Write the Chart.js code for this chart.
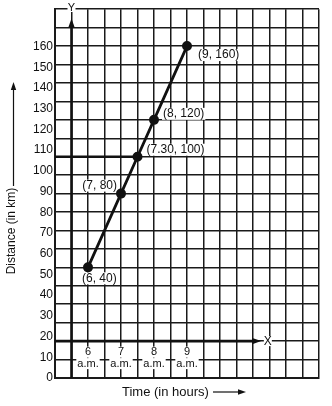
<!DOCTYPE html>
<html><head><meta charset="utf-8">
<script src="https://cdn.jsdelivr.net/npm/chart.js@4.4.1/dist/chart.umd.min.js"></script>
<style>html,body{margin:0;padding:0;background:#fff;}#wrap{width:332px;height:406px;}</style>
</head><body><div id="wrap"><canvas id="c" width="332" height="406"></canvas></div>
<script>
// ---- data ----
const hours = [6, 7, 7.5, 8, 9];
const distances = [40, 80, 100, 120, 160];
const pointLabels = ['(6, 40)', '(7, 80)', '(7.30, 100)', '(8, 120)', '(9, 160)'];
const yTickLabels = [0, 10, 20, 30, 40, 50, 60, 70, 80, 90, 100, 110, 120, 130, 140, 150, 160];
const xTickHours = [6, 7, 8, 9];
const xTickNames = ['6', '7', '8', '9'];
const xTickSuffix = 'a.m.';
const highlightDistance = 100;
const highlightHour = 7.5;
const yTitle = 'Distance (in km)';
const xTitle = 'Time (in hours)';

const INK = '#111';
const FONT = "'Liberation Sans', Arial, sans-serif";

function arrowHead(ctx, tx, ty, dir) {
  const L = 9, W = 3.2;
  ctx.beginPath();
  if (dir === 'right') { ctx.moveTo(tx, ty); ctx.lineTo(tx - L, ty - W); ctx.lineTo(tx - L, ty + W); }
  else { ctx.moveTo(tx, ty); ctx.lineTo(tx - W, ty + L); ctx.lineTo(tx + W, ty + L); }
  ctx.closePath(); ctx.fill();
}

const labelOffsets = [[-6, 11, 'left'], [-4, -8, 'right'], [9, -7, 'left'], [9, -6, 'left'], [11, 9, 'left']];

const deco = {
  id: 'deco',
  beforeDatasetsDraw(chart) {
    const { ctx, chartArea: a, scales: { x, y } } = chart;
    ctx.save();
    ctx.strokeStyle = INK; ctx.fillStyle = INK; ctx.lineWidth = 2.6; ctx.lineCap = 'butt';
    const yh = y.getPixelForValue(highlightDistance);
    ctx.beginPath(); ctx.moveTo(a.left, yh); ctx.lineTo(x.getPixelForValue(highlightHour), yh); ctx.stroke();
    const y0 = y.getPixelForValue(0);
    const xTip = x.getPixelForValue(11.25);
    ctx.beginPath(); ctx.moveTo(a.left, y0); ctx.lineTo(xTip - 6, y0); ctx.stroke();
    arrowHead(ctx, xTip, y0, 'right');
    const xa = x.getPixelForValue(5.5);
    const yTip = y.getPixelForValue(175);
    ctx.beginPath(); ctx.moveTo(xa, a.bottom); ctx.lineTo(xa, yTip + 6); ctx.stroke();
    arrowHead(ctx, xa, yTip, 'up');
    ctx.font = '12px ' + FONT; ctx.textAlign = 'center'; ctx.textBaseline = 'middle';
    const xl = x.getPixelForValue(11.45);
    ctx.fillStyle = '#fff'; ctx.fillRect(xl - 4, y0 - 5, 8, 10);
    ctx.fillStyle = INK; ctx.fillText('X', xl, y0 + 1);
    ctx.font = '11px ' + FONT;
    ctx.fillStyle = '#fff'; ctx.fillRect(xa - 4, 3, 8, 9);
    ctx.fillStyle = INK; ctx.fillText('Y', xa, 8);
    // white boxes behind the point labels
    ctx.font = '12px ' + FONT;
    pointLabels.forEach((t, i) => {
      const [dx, dy, al] = labelOffsets[i];
      const w = ctx.measureText(t).width;
      const px = x.getPixelForValue(hours[i]) + dx;
      const left = al === 'right' ? px - w : px;
      const cy = y.getPixelForValue(distances[i]) + dy;
      ctx.fillStyle = '#fff';
      ctx.fillRect(left - 1, cy - 6, w + 2, 12);
    });
    ctx.restore();
  },
  afterDatasetsDraw(chart) {
    const { ctx, scales: { x, y } } = chart;
    ctx.save();
    ctx.fillStyle = INK; ctx.strokeStyle = INK;
    ctx.font = '12px ' + FONT; ctx.textBaseline = 'middle';
    pointLabels.forEach((t, i) => {
      const [dx, dy, al] = labelOffsets[i];
      ctx.textAlign = al;
      ctx.fillText(t, x.getPixelForValue(hours[i]) + dx, y.getPixelForValue(distances[i]) + dy);
    });
    ctx.save();
    ctx.translate(12, 231); ctx.rotate(-Math.PI / 2);
    ctx.textAlign = 'center'; ctx.font = '12px ' + FONT;
    ctx.fillText(yTitle, 0, 0);
    ctx.restore();
    ctx.lineWidth = 1.2;
    ctx.beginPath(); ctx.moveTo(13.5, 186); ctx.lineTo(13.5, 88); ctx.stroke();
    ctx.beginPath(); ctx.moveTo(13.5, 82); ctx.lineTo(10.8, 90); ctx.lineTo(16.2, 90); ctx.closePath(); ctx.fill();
    ctx.font = '13px ' + FONT; ctx.textAlign = 'left';
    ctx.fillText(xTitle, 122, 392);
    ctx.beginPath(); ctx.moveTo(213, 392); ctx.lineTo(240, 392); ctx.stroke();
    ctx.beginPath(); ctx.moveTo(246, 392); ctx.lineTo(238, 389.3); ctx.lineTo(238, 394.7); ctx.closePath(); ctx.fill();
    ctx.restore();
  }
};

const hourTicks = s => { s.ticks = xTickHours.map(v => ({ value: v })); };

new Chart(document.getElementById('c'), {
  type: 'scatter',
  data: {
    datasets: [{
      data: hours.map((h, i) => ({ x: h, y: distances[i] })),
      showLine: true,
      borderColor: INK, backgroundColor: INK,
      borderWidth: 2.8, pointRadius: 3.6, pointHoverRadius: 3.6,
      xAxisID: 'x', yAxisID: 'y'
    }]
  },
  options: {
    responsive: false, animation: false, devicePixelRatio: 1,
    layout: { padding: { left: 0, right: 13, top: 6, bottom: 28 } },
    plugins: { legend: { display: false }, tooltip: { enabled: false } },
    scales: {
      x: {
        type: 'linear', position: 'bottom', min: 5, max: 13,
        ticks: { display: false, stepSize: 0.5 },
        grid: { color: '#1a1a1a', lineWidth: 1.5, drawTicks: false },
        border: { color: '#1a1a1a', width: 2 }
      },
      y: {
        type: 'linear', position: 'left', min: -20, max: 180,
        ticks: { display: false, stepSize: 10 },
        grid: { color: '#1a1a1a', lineWidth: 1.5, drawTicks: false },
        border: { color: '#1a1a1a', width: 2 },
        afterFit: s => { s.width = 0; }
      },
      yLabels: {
        type: 'linear', position: 'left', min: 0, max: 178,
        afterBuildTicks: s => { s.ticks = yTickLabels.map(v => ({ value: v })); },
        ticks: { color: INK, font: { family: FONT, size: 12 }, padding: 2, autoSkip: false, callback: v => String(v) },
        grid: { display: false, drawTicks: false }, border: { display: false },
        afterFit: s => { s.width = 55; }
      },
      xHour: {
        type: 'linear', axis: 'x', position: { y: 0 }, min: 5, max: 13,
        afterBuildTicks: hourTicks,
        ticks: {
          color: INK, font: { family: FONT, size: 11, lineHeight: 1 }, padding: 5.5, autoSkip: false, maxRotation: 0,
          showLabelBackdrop: true, backdropColor: '#fff', backdropPadding: { top: 0, bottom: 0, left: 2, right: 2 },
          callback: v => xTickNames[xTickHours.indexOf(v)]
        },
        grid: { display: false, drawTicks: false }, border: { display: false }
      },
      xSuffix: {
        type: 'linear', axis: 'x', position: { y: 0 }, min: 5, max: 13,
        afterBuildTicks: hourTicks,
        ticks: {
          color: INK, font: { family: FONT, size: 11, lineHeight: 1 }, padding: 17, autoSkip: false, maxRotation: 0,
          showLabelBackdrop: true, backdropColor: '#fff', backdropPadding: { top: 0, bottom: 0, left: 1, right: 1 },
          callback: () => xTickSuffix
        },
        grid: { display: false, drawTicks: false }, border: { display: false }
      }
    }
  },
  plugins: [deco]
});
</script>
</body></html>
